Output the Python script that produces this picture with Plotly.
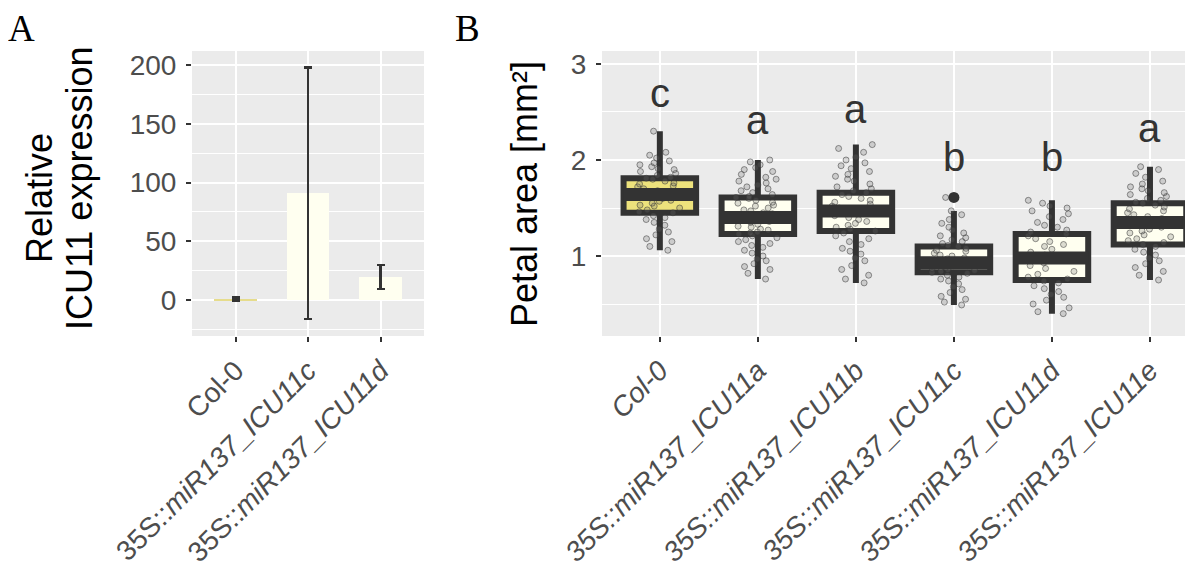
import plotly.graph_objects as go

# ---------------- Panel A data ----------------
a_categories = ["Col-0", "35S::miR137_ICU11c", "35S::miR137_ICU11d"]
a_ticktext = ["Col-0", "35S::<i>miR137_ICU11c</i>", "35S::<i>miR137_ICU11d</i>"]
a_values = [1.0, 91.0, 19.5]
a_errors = [1.3, 107.0, 10.2]
a_yticks = [0, 50, 100, 150, 200]

# ---------------- Panel B data ----------------
b_categories = ["Col-0", "35S::miR137_ICU11a", "35S::miR137_ICU11b",
                "35S::miR137_ICU11c", "35S::miR137_ICU11d", "35S::miR137_ICU11e"]
b_ticktext = ["<i>" + c + "</i>" for c in b_categories]
b_q1 = [1.45, 1.23, 1.26, 0.83, 0.75, 1.12]
b_median = [1.64, 1.40, 1.47, 0.93, 0.98, 1.35]
b_q3 = [1.81, 1.61, 1.66, 1.10, 1.23, 1.55]
b_lower = [1.06, 0.76, 0.72, 0.49, 0.40, 0.75]
b_upper = [2.30, 2.00, 2.16, 1.47, 1.58, 1.93]
b_letters = ["c", "a", "a", "b", "b", "a"]
b_letter_y = [2.59, 2.31, 2.43, 1.93, 1.93, 2.23]
b_outlier_cat = ["35S::miR137_ICU11c"]
b_outlier_y = [1.61]
b_yticks = [1, 2, 3]

pts_col0 = [2.30, 2.08, 2.05, 2.02, 1.99, 1.97, 1.95, 1.93, 1.91, 1.90, 1.88, 1.86,
            1.84, 1.82, 1.81, 1.80, 1.78, 1.76, 1.75, 1.73, 1.72, 1.70, 1.68, 1.66,
            1.65, 1.64, 1.63, 1.62, 1.60, 1.58, 1.57, 1.55, 1.53, 1.52, 1.50, 1.48,
            1.46, 1.45, 1.42, 1.40, 1.38, 1.35, 1.32, 1.28, 1.25, 1.22, 1.18, 1.15,
            1.10, 1.06]
pts_a = [2.00, 1.98, 1.95, 1.92, 1.90, 1.88, 1.85, 1.82, 1.80, 1.78, 1.76, 1.74,
         1.72, 1.70, 1.68, 1.66, 1.64, 1.62, 1.61, 1.60, 1.58, 1.56, 1.55, 1.53,
         1.52, 1.50, 1.48, 1.47, 1.45, 1.44, 1.42, 1.41, 1.40, 1.39, 1.38, 1.36,
         1.35, 1.33, 1.31, 1.30, 1.28, 1.27, 1.25, 1.24, 1.23, 1.21, 1.19, 1.17,
         1.15, 1.13, 1.11, 1.09, 1.06, 1.03, 1.00, 0.97, 0.95, 0.92, 0.89, 0.86,
         0.82, 0.76]
pts_b = [2.16, 2.12, 2.08, 2.03, 2.00, 1.97, 1.94, 1.91, 1.88, 1.85, 1.83, 1.80,
         1.78, 1.75, 1.72, 1.70, 1.68, 1.66, 1.64, 1.62, 1.60, 1.58, 1.56, 1.54,
         1.52, 1.50, 1.48, 1.47, 1.46, 1.44, 1.42, 1.40, 1.38, 1.36, 1.34, 1.32,
         1.30, 1.28, 1.26, 1.24, 1.21, 1.18, 1.15, 1.12, 1.08, 1.05, 1.02, 0.98,
         0.95, 0.90, 0.86, 0.80, 0.76, 0.72]
pts_c = [1.61, 1.47, 1.43, 1.38, 1.34, 1.30, 1.27, 1.24, 1.21, 1.19, 1.17, 1.15,
         1.13, 1.11, 1.10, 1.08, 1.06, 1.05, 1.03, 1.01, 1.00, 0.98, 0.97, 0.95,
         0.94, 0.93, 0.92, 0.91, 0.90, 0.88, 0.87, 0.86, 0.85, 0.84, 0.83, 0.82,
         0.80, 0.78, 0.76, 0.74, 0.71, 0.68, 0.65, 0.62, 0.58, 0.55, 0.52, 0.49]
pts_d = [1.58, 1.55, 1.52, 1.50, 1.47, 1.44, 1.41, 1.38, 1.35, 1.32, 1.30, 1.27,
         1.25, 1.23, 1.21, 1.18, 1.15, 1.12, 1.10, 1.07, 1.04, 1.01, 0.99, 0.98,
         0.96, 0.93, 0.90, 0.87, 0.84, 0.81, 0.78, 0.76, 0.74, 0.72, 0.69, 0.66,
         0.63, 0.60, 0.57, 0.54, 0.50, 0.46, 0.42, 0.40]
pts_e = [1.93, 1.90, 1.86, 1.82, 1.78, 1.75, 1.72, 1.70, 1.68, 1.66, 1.64, 1.62,
         1.60, 1.58, 1.56, 1.55, 1.53, 1.51, 1.49, 1.47, 1.45, 1.43, 1.41, 1.39,
         1.37, 1.36, 1.35, 1.34, 1.32, 1.30, 1.28, 1.26, 1.24, 1.22, 1.20, 1.18,
         1.16, 1.14, 1.12, 1.10, 1.07, 1.04, 1.01, 0.98, 0.95, 0.92, 0.88, 0.84,
         0.80, 0.75]
b_points = [pts_col0, pts_a, pts_b, pts_c, pts_d, pts_e]

# ---------------- styles ----------------
FONT = "Liberation Sans, Arial, sans-serif"
SERIF = "Liberation Serif, Times New Roman, serif"
DARK = "#333333"
TICKC = "#4d4d4d"
PANEL_BG = "#ebebeb"
YELLOW = "#ede27c"
CREAM = "#fffff0"
a_colors = ["#e6dc8c", CREAM, CREAM]
b_fills = [YELLOW] + [CREAM] * 5

fig = go.Figure()

# Panel A bars
fig.add_trace(go.Bar(
    x=a_categories, y=a_values, width=0.58,
    marker=dict(color=a_colors, line=dict(width=0)),
    error_y=dict(type="data", array=a_errors, color=DARK, thickness=2.5, width=4),
    xaxis="x", yaxis="y", showlegend=False))

# Panel B boxes
for i, cat in enumerate(b_categories):
    fig.add_trace(go.Box(
        x=[cat], q1=[b_q1[i]], median=[b_median[i]], q3=[b_q3[i]],
        lowerfence=[b_lower[i]], upperfence=[b_upper[i]],
        width=0.74, whiskerwidth=0, fillcolor=b_fills[i], line=dict(color=DARK, width=6),
        boxpoints=False, xaxis="x2", yaxis="y2", showlegend=False))
for i, cat in enumerate(b_categories):
    fig.add_trace(go.Box(
        x=[cat] * len(b_points[i]), y=b_points[i],
        width=0.74, whiskerwidth=0, fillcolor="rgba(0,0,0,0)",
        line=dict(color="rgba(0,0,0,0)", width=0),
        boxpoints="all", jitter=0.7, pointpos=0,
        marker=dict(size=6, color="rgba(110,110,110,0.25)",
                    line=dict(width=1, color="rgba(50,50,50,0.5)")),
        xaxis="x2", yaxis="y2", showlegend=False))
for i, cat in enumerate(b_categories):
    m = b_median[i]
    fig.add_trace(go.Box(
        x=[cat], q1=[m], median=[m], q3=[m], lowerfence=[m], upperfence=[m],
        width=0.74, whiskerwidth=0, fillcolor=DARK, line=dict(color=DARK, width=13),
        boxpoints=False, xaxis="x2", yaxis="y2", showlegend=False))

fig.add_trace(go.Scatter(
    x=b_outlier_cat, y=b_outlier_y, mode="markers",
    marker=dict(size=11, color=DARK), xaxis="x2", yaxis="y2", showlegend=False))

annotations = []
for cat, lab, ly in zip(b_categories, b_letters, b_letter_y):
    annotations.append(dict(x=cat, y=ly, xref="x2", yref="y2", text=lab,
                            showarrow=False, font=dict(family=FONT, size=40, color=DARK),
                            xanchor="center", yanchor="middle", yshift=10))

annotations += [
    dict(x=0, y=1, xref="paper", yref="paper", text="A",
         showarrow=False, xanchor="left", yanchor="top", xshift=-2, yshift=2,
         font=dict(family=SERIF, size=37, color="black")),
    dict(x=445 / 1193, y=1, xref="paper", yref="paper", text="B",
         showarrow=False, xanchor="left", yanchor="top", yshift=2,
         font=dict(family=SERIF, size=37, color="black")),
    dict(x=31 / 1193, y=1 - 190 / 576, xref="paper", yref="paper", text="Relative",
         textangle=-90, showarrow=False, xanchor="center", yanchor="middle",
         font=dict(family=FONT, size=36, color="black")),
    dict(x=71 / 1193, y=1 - 181 / 576, xref="paper", yref="paper", text="ICU11 expression",
         textangle=-90, showarrow=False, xanchor="center", yanchor="middle",
         font=dict(family=FONT, size=36, color="black")),
    dict(x=516 / 1193, y=1 - 186 / 576, xref="paper", yref="paper", text="Petal area [mm²]",
         textangle=-90, showarrow=False, xanchor="center", yanchor="middle",
         font=dict(family=FONT, size=36, color="black")),
]

ydom = [1 - 328 / 576, 1 - 43 / 576]
common_x = dict(type="category", showgrid=True, gridcolor="white", gridwidth=2,
                ticks="outside", ticklen=5, tickwidth=1.5, tickcolor=DARK,
                tickangle=-45, tickfont=dict(family=FONT, size=28, color=TICKC),
                ticklabelstandoff=1,
                showline=False, zeroline=False, automargin=False)
common_y = dict(showgrid=True, gridcolor="white", gridwidth=2,
                ticks="outside", ticklen=5, tickwidth=1.5, tickcolor=DARK,
                tickfont=dict(family=FONT, size=28, color=TICKC),
                ticklabelstandoff=4,
                showline=False, zeroline=False, automargin=False)

fig.update_layout(
    width=1193, height=576,
    margin=dict(l=0, r=0, t=0, b=0),
    paper_bgcolor="white", plot_bgcolor=PANEL_BG,
    boxmode="overlay", bargap=0.0,
    xaxis=dict(common_x, domain=[184 / 1193, 416 / 1193], range=[-0.6, 2.6],
               tickvals=a_categories, ticktext=a_ticktext, anchor="y"),
    yaxis=dict(common_y, domain=ydom, range=[-30.6, 211.9], tickvals=a_yticks,
               minor=dict(tick0=25, dtick=50, showgrid=True, gridcolor="white", gridwidth=1),
               anchor="x"),
    xaxis2=dict(common_x, domain=[594 / 1193, 1190 / 1193], range=[-0.59, 5.49],
                tickvals=b_categories, ticktext=b_ticktext, anchor="y2"),
    yaxis2=dict(common_y, domain=ydom, range=[0.167, 3.135], tickvals=b_yticks,
                minor=dict(tick0=0.5, dtick=1, showgrid=True, gridcolor="white", gridwidth=1),
                anchor="x2"),
    annotations=annotations,
)

fig.write_html("out.html")
